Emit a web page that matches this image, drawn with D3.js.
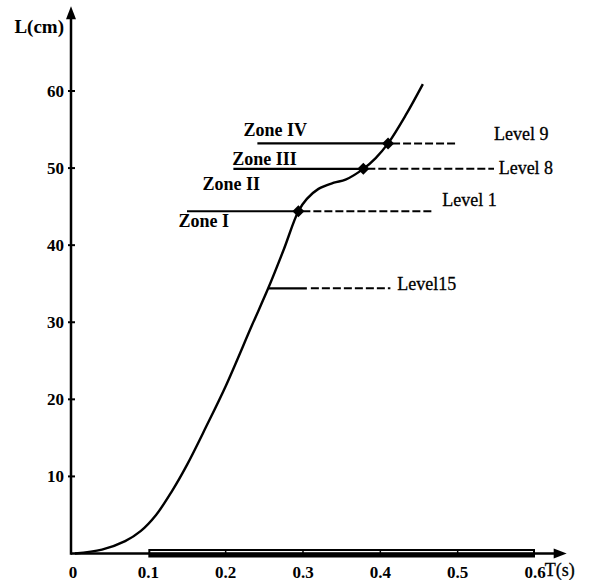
<!DOCTYPE html>
<html>
<head>
<meta charset="utf-8">
<script src="https://cdn.jsdelivr.net/npm/d3@7"></script>
<style>
  body { margin: 0; background: #fff; }
  svg text { font-family: "Liberation Serif", "DejaVu Serif", serif; fill: #000; }
</style>
</head>
<body>
<div id="chart"></div>
<script>
// Data
const curveT = [0.005, 0.04, 0.07, 0.09, 0.11, 0.13, 0.15, 0.175, 0.2, 0.234, 0.255, 0.275, 0.294, 0.305, 0.32, 0.34, 0.355, 0.378, 0.394, 0.41, 0.433, 0.455];
const curveL = [0, 0.5, 1.6, 2.9, 5.0, 8.0, 11.5, 16.5, 21.7, 29.6, 34.4, 39.4, 44.4, 46.0, 47.3, 48.1, 48.5, 49.9, 51.3, 53.2, 56.9, 60.9];

const levelNames = ["Level 9", "Level 8", "Level 1", "Level15"];
const levelL = [53.2, 49.9, 44.4, 34.4];
const levelSolidStart = [0.241, 0.21, 0.15, 0.255];
const levelSolidEnd = [0.41, 0.378, 0.294, 0.305];
const levelDashEnd = [0.5, 0.547, 0.468, 0.413];
const levelHasMarker = [true, true, true, false];
const levelLabelT = [0.547, 0.553, 0.48, 0.422];
const levelLabelL = [53.6, 49.2, 45.1, 34.2];

const zoneNames = ["Zone IV", "Zone III", "Zone II", "Zone I"];
const zoneLabelT = [0.223, 0.2085, 0.17, 0.139];
const zoneLabelL = [54.2, 50.4, 47.1, 42.4];

const yTicks = [10, 20, 30, 40, 50, 60];
const xTicks = [0, 0.1, 0.2, 0.3, 0.4, 0.5, 0.6];
const barStart = 0.1, barEnd = 0.6;
const xArrowT = 0.641, yArrowL = 71;

const WIDTH = 589, HEIGHT = 580;

const x = d3.scaleLinear().domain([0, 0.6]).range([71, 535]);
const y = d3.scaleLinear().domain([0, 60]).range([553.5, 91]);

const svg = d3.select("#chart").append("svg")
  .attr("width", WIDTH)
  .attr("height", HEIGHT);

// Bar along x axis
const barTop = y(0) - 4.5, barBottom = y(0) + 4;
svg.append("rect")
  .attr("x", x(barStart)).attr("y", barTop)
  .attr("width", x(barEnd) - x(barStart)).attr("height", barBottom - barTop)
  .attr("fill", "#000");
svg.append("rect")
  .attr("x", x(barStart) + 2).attr("y", barTop + 2)
  .attr("width", x(barEnd) - x(barStart) - 4).attr("height", 1.8)
  .attr("fill", "#fff");
svg.selectAll(".bar-div")
  .data(xTicks.filter((t) => t > barStart && t < barEnd))
  .enter().append("line")
  .attr("x1", (d) => x(d)).attr("x2", (d) => x(d))
  .attr("y1", barTop).attr("y2", barTop + 4)
  .attr("stroke", "#000").attr("stroke-width", 1.5);

// Axes
svg.append("line")
  .attr("x1", x(0)).attr("x2", x(xArrowT) - 8)
  .attr("y1", y(0)).attr("y2", y(0))
  .attr("stroke", "#000").attr("stroke-width", 2.5);
svg.append("path")
  .attr("d", `M${x(xArrowT)},${y(0)} L${x(xArrowT) - 13},${y(0) - 5} L${x(xArrowT) - 13},${y(0) + 5} Z`)
  .attr("fill", "#000");
svg.append("line")
  .attr("x1", x(0)).attr("x2", x(0))
  .attr("y1", y(0) + 1.25).attr("y2", y(yArrowL) + 8)
  .attr("stroke", "#000").attr("stroke-width", 2.5);
svg.append("path")
  .attr("d", `M${x(0)},${y(yArrowL)} L${x(0) - 5},${y(yArrowL) + 13} L${x(0) + 5},${y(yArrowL) + 13} Z`)
  .attr("fill", "#000");

// y ticks
svg.selectAll(".ytick")
  .data(yTicks)
  .enter().append("line")
  .attr("x1", x(0) - 3).attr("x2", x(0) + 4)
  .attr("y1", (d) => y(d)).attr("y2", (d) => y(d))
  .attr("stroke", "#000").attr("stroke-width", 2);
svg.selectAll(".ylabel")
  .data(yTicks)
  .enter().append("text")
  .attr("x", x(0) - 7).attr("y", (d) => y(d) + 6)
  .attr("text-anchor", "end")
  .attr("font-size", 17).attr("font-weight", "bold")
  .text((d) => d);

// x tick labels
svg.selectAll(".xlabel")
  .data(xTicks)
  .enter().append("text")
  .attr("x", (d) => x(d) + (d === 0 ? 2 : 0)).attr("y", y(0) + 24)
  .attr("text-anchor", "middle")
  .attr("font-size", 17).attr("font-weight", "bold")
  .text((d) => (d === 0 ? "0" : d3.format(".1f")(d)));

// axis titles
svg.append("text")
  .attr("x", x(0) - 7).attr("y", y(yArrowL) + 27)
  .attr("text-anchor", "end")
  .attr("font-size", 19).attr("font-weight", "bold")
  .text("L(cm)");
svg.append("text")
  .attr("x", x(xArrowT) - 22).attr("y", y(0) + 22)
  .attr("font-size", 18)
  .attr("stroke", "#000").attr("stroke-width", 0.3)
  .text("T(s)");

// level lines
const levels = levelNames.map((name, i) => ({
  name,
  L: levelL[i],
  s0: levelSolidStart[i],
  s1: levelSolidEnd[i],
  d1: levelDashEnd[i],
  marker: levelHasMarker[i],
  lt: levelLabelT[i],
  ll: levelLabelL[i],
}));

svg.selectAll(".solid")
  .data(levels)
  .enter().append("line")
  .attr("x1", (d) => x(d.s0)).attr("x2", (d) => x(d.s1))
  .attr("y1", (d) => y(d.L)).attr("y2", (d) => y(d.L))
  .attr("stroke", "#000").attr("stroke-width", 2.2);
svg.selectAll(".dashed")
  .data(levels)
  .enter().append("line")
  .attr("x1", (d) => x(d.s1) + 4).attr("x2", (d) => x(d.d1))
  .attr("y1", (d) => y(d.L)).attr("y2", (d) => y(d.L))
  .attr("stroke", "#000").attr("stroke-width", 2)
  .attr("stroke-dasharray", "8,3");

// curve
const curvePts = curveT.map((t, i) => [t, curveL[i]]);
svg.append("path")
  .datum(curvePts)
  .attr("fill", "none")
  .attr("stroke", "#000")
  .attr("stroke-width", 2.4)
  .attr("d", d3.line().curve(d3.curveCatmullRom.alpha(0.5)).x((d) => x(d[0])).y((d) => y(d[1])));

// diamonds
svg.selectAll(".diamond")
  .data(levels.filter((d) => d.marker))
  .enter().append("path")
  .attr("transform", (d) => `translate(${x(d.s1)},${y(d.L)}) rotate(45)`)
  .attr("d", d3.symbol().type(d3.symbolSquare).size(72))
  .attr("fill", "#000");

// level labels
svg.selectAll(".level-label")
  .data(levels)
  .enter().append("text")
  .attr("x", (d) => x(d.lt)).attr("y", (d) => y(d.ll))
  .attr("font-size", 18)
  .attr("stroke", "#000").attr("stroke-width", 0.3)
  .text((d) => d.name);

// zone labels
svg.selectAll(".zone-label")
  .data(zoneNames)
  .enter().append("text")
  .attr("x", (d, i) => x(zoneLabelT[i])).attr("y", (d, i) => y(zoneLabelL[i]))
  .attr("font-size", 18).attr("font-weight", "bold")
  .text((d) => d);
</script>
</body>
</html>
